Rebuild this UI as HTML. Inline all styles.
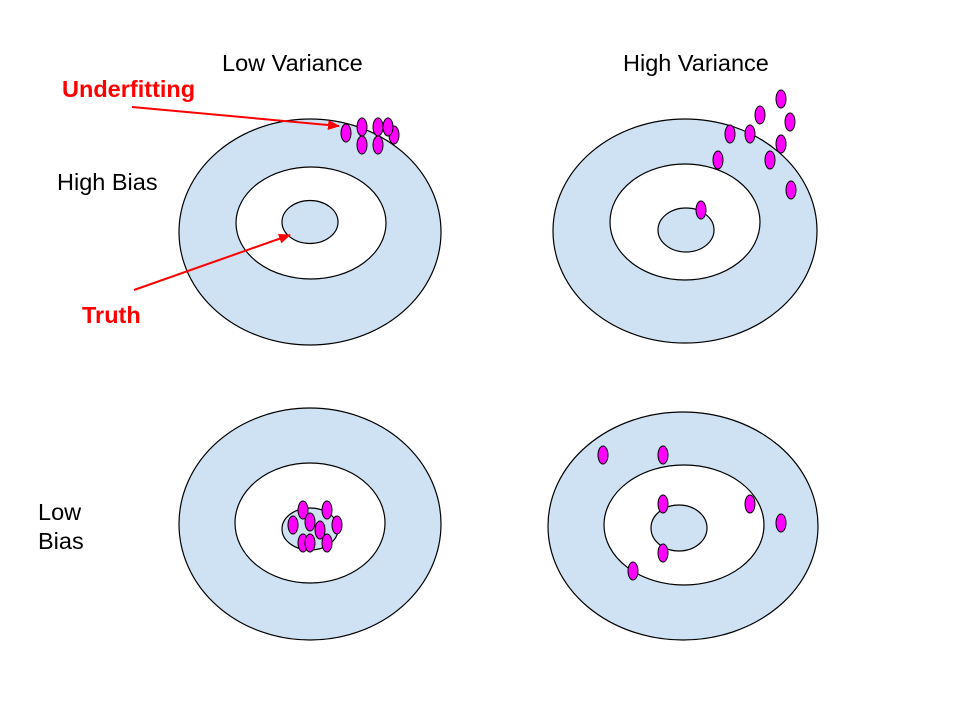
<!DOCTYPE html>
<html><head><meta charset="utf-8"><style>
html,body{margin:0;padding:0;background:#fff;}
svg{display:block;}
text{font-family:"Liberation Sans",Arial,sans-serif;}
</style></head><body>
<svg width="960" height="720" viewBox="0 0 960 720" xmlns="http://www.w3.org/2000/svg">
<defs>
<marker id="ah" markerWidth="12" markerHeight="10" refX="11" refY="5" orient="auto" markerUnits="userSpaceOnUse">
<path d="M0,0 L12,5 L0,10 z" fill="#ff0000"/>
</marker>
</defs>
<g stroke="#000" stroke-width="1.2">
<ellipse cx="310" cy="232" rx="131" ry="113" fill="#cfe2f3"/>
<ellipse cx="311" cy="223" rx="75" ry="56" fill="#fff"/>
<ellipse cx="310" cy="222" rx="28" ry="21.5" fill="#cfe2f3"/>
<ellipse cx="685" cy="231" rx="132" ry="112" fill="#cfe2f3"/>
<ellipse cx="685" cy="222" rx="75" ry="58" fill="#fff"/>
<ellipse cx="686" cy="230" rx="28" ry="22" fill="#cfe2f3"/>
<ellipse cx="310" cy="524" rx="131" ry="116" fill="#cfe2f3"/>
<ellipse cx="310" cy="523" rx="75" ry="60" fill="#fff"/>
<ellipse cx="310" cy="529" rx="28" ry="21" fill="#cfe2f3"/>
<ellipse cx="683" cy="526" rx="135" ry="114" fill="#cfe2f3"/>
<ellipse cx="684" cy="525" rx="80" ry="60" fill="#fff"/>
<ellipse cx="679" cy="528" rx="28" ry="23" fill="#cfe2f3"/>
</g>
<g fill="#ff00ff" stroke="#000" stroke-width="1">
<ellipse cx="346" cy="133" rx="5" ry="9"/>
<ellipse cx="362" cy="127" rx="5" ry="9"/>
<ellipse cx="378" cy="127" rx="5" ry="9"/>
<ellipse cx="394" cy="135" rx="5" ry="9"/>
<ellipse cx="388" cy="127" rx="5" ry="9"/>
<ellipse cx="362" cy="145" rx="5" ry="9"/>
<ellipse cx="378" cy="145" rx="5" ry="9"/>

<ellipse cx="781" cy="99" rx="5" ry="9"/>
<ellipse cx="760" cy="115" rx="5" ry="9"/>
<ellipse cx="790" cy="122" rx="5" ry="9"/>
<ellipse cx="730" cy="134" rx="5" ry="9"/>
<ellipse cx="750" cy="134" rx="5" ry="9"/>
<ellipse cx="781" cy="144" rx="5" ry="9"/>
<ellipse cx="718" cy="160" rx="5" ry="9"/>
<ellipse cx="770" cy="160" rx="5" ry="9"/>
<ellipse cx="791" cy="190" rx="5" ry="9"/>
<ellipse cx="701" cy="210" rx="5" ry="9"/>

<ellipse cx="293" cy="525" rx="5" ry="9"/>
<ellipse cx="303" cy="510" rx="5" ry="9"/>
<ellipse cx="327" cy="510" rx="5" ry="9"/>
<ellipse cx="310" cy="522" rx="5" ry="9"/>
<ellipse cx="337" cy="525" rx="5" ry="9"/>
<ellipse cx="320" cy="530" rx="5" ry="9"/>
<ellipse cx="303" cy="543" rx="5" ry="9"/>
<ellipse cx="310" cy="543" rx="5" ry="9"/>
<ellipse cx="327" cy="543" rx="5" ry="9"/>

<ellipse cx="603" cy="455" rx="5" ry="9"/>
<ellipse cx="663" cy="455" rx="5" ry="9"/>
<ellipse cx="663" cy="504" rx="5" ry="9"/>
<ellipse cx="750" cy="504" rx="5" ry="9"/>
<ellipse cx="781" cy="523" rx="5" ry="9"/>
<ellipse cx="663" cy="553" rx="5" ry="9"/>
<ellipse cx="633" cy="571" rx="5" ry="9"/>
</g>
<g stroke="#ff0000" stroke-width="2" marker-end="url(#ah)">
<line x1="132" y1="107" x2="339" y2="126"/>
<line x1="134" y1="290" x2="290" y2="235"/>
</g>
<g font-size="23.5" fill="#000">
<text x="222" y="71">Low Variance</text>
<text x="623" y="71">High Variance</text>
<text x="57" y="190">High Bias</text>
<text x="38" y="520">Low</text>
<text x="38" y="549">Bias</text>
</g>
<g font-size="23.5" font-weight="bold" fill="#ff0000">
<text x="62" y="97">Underfitting</text>
<text x="82" y="323">Truth</text>
</g>
</svg>
</body></html>
